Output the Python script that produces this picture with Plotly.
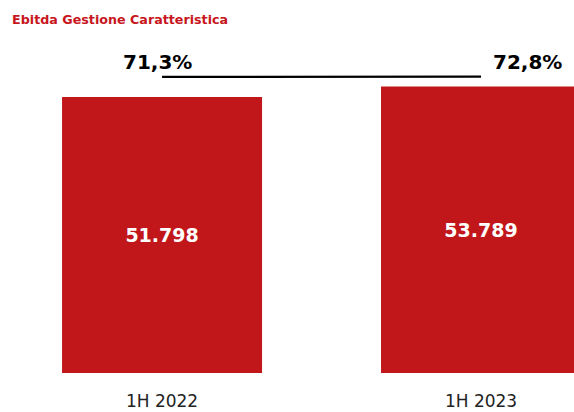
import plotly.graph_objects as go

categories = ["1H 2022", "1H 2023"]
ebitda = [51798, 53789]
ebitda_labels = ["51.798", "53.789"]
margin_pct = [71.3, 72.8]
margin_labels = ["71,3%", "72,8%"]

RED = "#C1171B"
x_pos = [0, 1]

fig = go.Figure()
fig.add_trace(go.Bar(
    x=x_pos, y=ebitda, width=0.627,
    marker=dict(color=RED, line=dict(width=0)),
    text=ebitda_labels, textposition="inside", insidetextanchor="middle",
    textfont=dict(family="DejaVu Sans", size=19, color="white", weight="bold"),
    textangle=0, showlegend=False, hoverinfo="skip",
))
fig.add_trace(go.Scatter(
    x=x_pos, y=margin_pct, yaxis="y2", mode="lines",
    line=dict(color="black", width=2.2),
    cliponaxis=False, showlegend=False, hoverinfo="skip",
))

label_style = [dict(xanchor="center", xshift=-5), dict(xanchor="left", xshift=10)]
for xp, val, lab, st in zip(x_pos, margin_pct, margin_labels, label_style):
    fig.add_annotation(
        x=xp, y=val, xref="x", yref="y2", text=f"<b>{lab}</b>", showarrow=False,
        yanchor="middle", yshift=15, xanchor=st["xanchor"], xshift=st["xshift"],
        font=dict(family="DejaVu Sans", size=20, color="black"),
    )

fig.update_layout(
    width=574, height=412,
    margin=dict(l=0, r=0, t=40, b=39, autoexpand=False),
    paper_bgcolor="white", plot_bgcolor="white",
    title=dict(text="<b>Ebitda Gestione Caratteristica</b>", x=0.021, xanchor="left",
               y=0.952, yanchor="middle",
               font=dict(family="DejaVu Sans", size=12.7, color="#C8161D")),
    xaxis=dict(range=[-0.508, 1.2915], tickvals=x_pos, ticktext=categories,
               showgrid=False, zeroline=False, showline=False, automargin=False,
               ticks="outside", ticklen=13, tickcolor="rgba(0,0,0,0)",
               tickfont=dict(family="DejaVu Sans", size=17, color="#222")),
    yaxis=dict(range=[0, 62500], visible=False, automargin=False),
    yaxis2=dict(range=[71.3 - 1778, 71.3 + 222], overlaying="y", visible=False),
)

fig.write_html(
    "out.html",
    config={"displayModeBar": False},
    post_script="document.body.style.margin='0';document.documentElement.style.overflow='hidden';",
)
